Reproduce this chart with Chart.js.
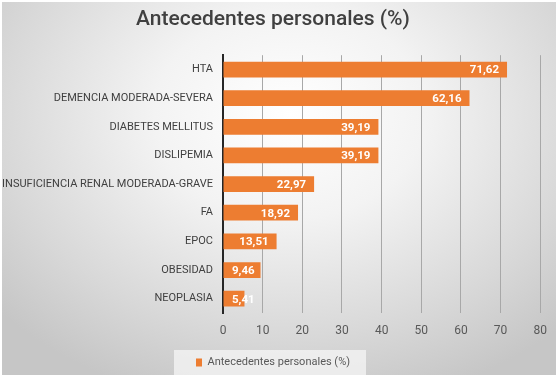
<!DOCTYPE html>
<html>
<head>
<meta charset="utf-8">
<script src="https://cdn.jsdelivr.net/npm/chart.js@4"></script>
<style>
  body { margin: 0; background: #fff; }
  #bg {
    position: absolute; left: 2px; top: 2px; width: 554px; height: 373px;
    background: radial-gradient(ellipse 70% 80% at 52% 30%, #ffffff 0%, #f3f3f3 35%, #d8d8d8 75%, #c6c6c6 100%);
  }
  #wrap { position: absolute; left: 0; top: 0; width: 558px; height: 379px; }
</style>
</head>
<body>
<div id="bg"></div>
<div id="wrap"><canvas id="chart"></canvas></div>
<script>
// chart data
const categories = ['HTA', 'DEMENCIA MODERADA-SEVERA', 'DIABETES MELLITUS', 'DISLIPEMIA',
    'INSUFICIENCIA RENAL MODERADA-GRAVE', 'FA', 'EPOC', 'OBESIDAD', 'NEOPLASIA'];
const values = [71.62, 62.16, 39.19, 39.19, 22.97, 18.92, 13.51, 9.46, 5.41];
const seriesName = 'Antecedentes personales (%)';
const xTicks = [0, 10, 20, 30, 40, 50, 60, 70, 80];

const fam = "Roboto, sans-serif";

// white value labels at the inner end of each bar
const barLabels = {
    id: 'barLabels',
    afterDatasetsDraw(chart) {
        const ctx = chart.ctx;
        const meta = chart.getDatasetMeta(0);
        const x0 = chart.scales.x.getPixelForValue(0);
        ctx.save();
        ctx.font = "bold 11.5px " + fam;
        ctx.fillStyle = '#ffffff';
        ctx.textAlign = 'right';
        ctx.textBaseline = 'middle';
        meta.data.forEach((bar, i) => {
            const txt = values[i].toFixed(2).replace('.', ',');
            const w = ctx.measureText(txt).width;
            const x = Math.max(bar.x - 8, x0 + 9 + w);
            ctx.fillText(txt, x, bar.y + 1);
        });
        ctx.restore();
    }
};

// light box behind the legend entry
const legendBox = {
    id: 'legendBox',
    beforeDraw(chart) {
        const hb = chart.legend && chart.legend.legendHitBoxes && chart.legend.legendHitBoxes[0];
        if (!hb) return;
        const ctx = chart.ctx;
        ctx.save();
        ctx.fillStyle = 'rgba(245,245,245,0.75)';
        ctx.fillRect(hb.left - 22, hb.top - 7, hb.width + 38, hb.height + 14);
        ctx.restore();
    }
};

new Chart(document.getElementById('chart'), {
    type: 'bar',
    data: {
        labels: categories,
        datasets: [{
            label: seriesName,
            data: values,
            backgroundColor: '#ED7D31',
            categoryPercentage: 1,
            barPercentage: 0.55
        }]
    },
    plugins: [barLabels, legendBox],
    options: {
        indexAxis: 'y',
        responsive: true,
        maintainAspectRatio: false,
        animation: false,
        layout: { padding: { left: 3, right: 15, top: 0, bottom: 1 } },
        scales: {
            x: {
                min: 0,
                max: 80,
                afterBuildTicks: axis => { axis.ticks = xTicks.map(v => ({ value: v })); },
                afterFit: axis => { axis.height = 30; },
                grid: { color: '#a8a8a8', lineWidth: 1, drawTicks: false },
                border: { display: false },
                ticks: { color: '#595959', padding: 11, font: { size: 12, family: fam } }
            },
            y: {
                afterFit: axis => { axis.width = 220; },
                grid: { display: false, drawTicks: false },
                border: { color: '#262626', width: 2 },
                ticks: { color: '#404040', padding: 10, font: { size: 11, family: fam } }
            }
        },
        plugins: {
            title: {
                display: true,
                text: 'Antecedentes personales (%)',
                color: '#404040',
                font: { size: 21, weight: '500', family: fam },
                padding: { top: 7, bottom: 23 }
            },
            legend: {
                position: 'bottom',
                labels: {
                    color: '#595959',
                    boxWidth: 6,
                    boxHeight: 8,
                    padding: 14,
                    font: { size: 11, family: fam }
                }
            },
            tooltip: { enabled: false }
        }
    }
});
</script>
</body>
</html>
